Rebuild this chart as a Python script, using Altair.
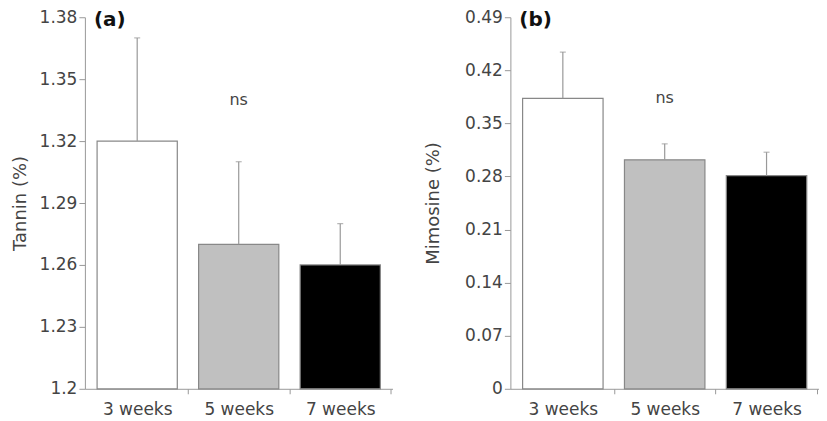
import altair as alt
import pandas as pd

weeks = ["3 weeks", "5 weeks", "7 weeks"]
fills = ["#ffffff", "#c0c0c0", "#000000"]

tannin_mean = [1.32, 1.27, 1.26]
tannin_upper = [1.37, 1.31, 1.28]
tannin_ticks = [1.2, 1.23, 1.26, 1.29, 1.32, 1.35, 1.38]
tannin_ns = 1.340

mimo_mean = [0.383, 0.302, 0.281]
mimo_upper = [0.444, 0.323, 0.312]
mimo_ticks = [0, 0.07, 0.14, 0.21, 0.28, 0.35, 0.42, 0.49]
mimo_ns = 0.383

H = 372
P_IN, P_OUT = 0.21, 0.12
FONT = "DejaVu Sans"
AX = "#999999"
LAB = "#444444"


def panel(means, uppers, ticks, title, letter, ns_val, title_pad, W):
    step = W / (3 - P_IN + 2 * P_OUT)
    lo, hi = ticks[0], ticks[-1]
    df = pd.DataFrame({"week": weeks, "mean": means, "upper": uppers,
                       "base": [lo] * 3})
    x = alt.X("week:N", sort=weeks,
              scale=alt.Scale(paddingInner=P_IN, paddingOuter=P_OUT),
              axis=alt.Axis(title=None, labelAngle=0, labelFont=FONT,
                            labelFontSize=17, labelColor=LAB,
                            domainColor=AX, tickColor=AX, tickSize=5,
                            tickOffset=step / 2, labelOffset=-step / 2,
                            labelPadding=8))
    y = alt.Y("mean:Q",
              scale=alt.Scale(domain=[lo, hi], zero=False, nice=False),
              axis=alt.Axis(title=title, values=ticks, format=".2~f",
                            grid=False, labelFont=FONT, labelFontSize=17,
                            labelColor=LAB, titleFont=FONT, titleFontSize=18,
                            titleFontWeight="normal", titleColor=LAB,
                            domainColor=AX, tickColor=AX, tickSize=6,
                            labelPadding=2, titlePadding=title_pad))
    base = alt.Chart(df)
    bars = base.mark_bar(stroke="#888888", strokeWidth=1.2).encode(
        x=x, y=y, y2="base:Q",
        color=alt.Color("week:N", sort=weeks,
                        scale=alt.Scale(domain=weeks, range=fills),
                        legend=None))
    err = base.mark_rule(color="#999999", strokeWidth=1.2).encode(
        x=alt.X("week:N", sort=weeks), y="mean:Q", y2="upper:Q")
    cap = base.mark_tick(color="#999999", thickness=1.2, size=6,
                         orient="horizontal").encode(
        x=alt.X("week:N", sort=weeks), y="upper:Q")
    ns = alt.Chart(pd.DataFrame({"week": ["5 weeks"], "v": [ns_val],
                                 "t": ["ns"]})).mark_text(
        font=FONT, fontSize=16, color=LAB).encode(
        x=alt.X("week:N", sort=weeks), y="v:Q", text="t:N")
    lab = alt.Chart(pd.DataFrame({"t": [letter]})).mark_text(
        font=FONT, fontSize=20, fontWeight="bold", color="#111111",
        align="left", baseline="middle").encode(
        x=alt.value(9), y=alt.value(3), text="t:N")
    return alt.layer(bars, err, cap, ns, lab).properties(width=W, height=H)


a = panel(tannin_mean, tannin_upper, tannin_ticks, "Tannin (%)", "(a)",
          tannin_ns, 10, 308)
b = panel(mimo_mean, mimo_upper, mimo_ticks, "Mimosine (%)", "(b)",
          mimo_ns, 22, 309)

chart = alt.hconcat(a, b, spacing=32).properties(
    padding={"left": 3, "top": 0, "right": 0, "bottom": 0},
    background="white",
).configure_view(stroke=None)

chart.save("out.html", embed_options={"renderer": "svg", "actions": False})
